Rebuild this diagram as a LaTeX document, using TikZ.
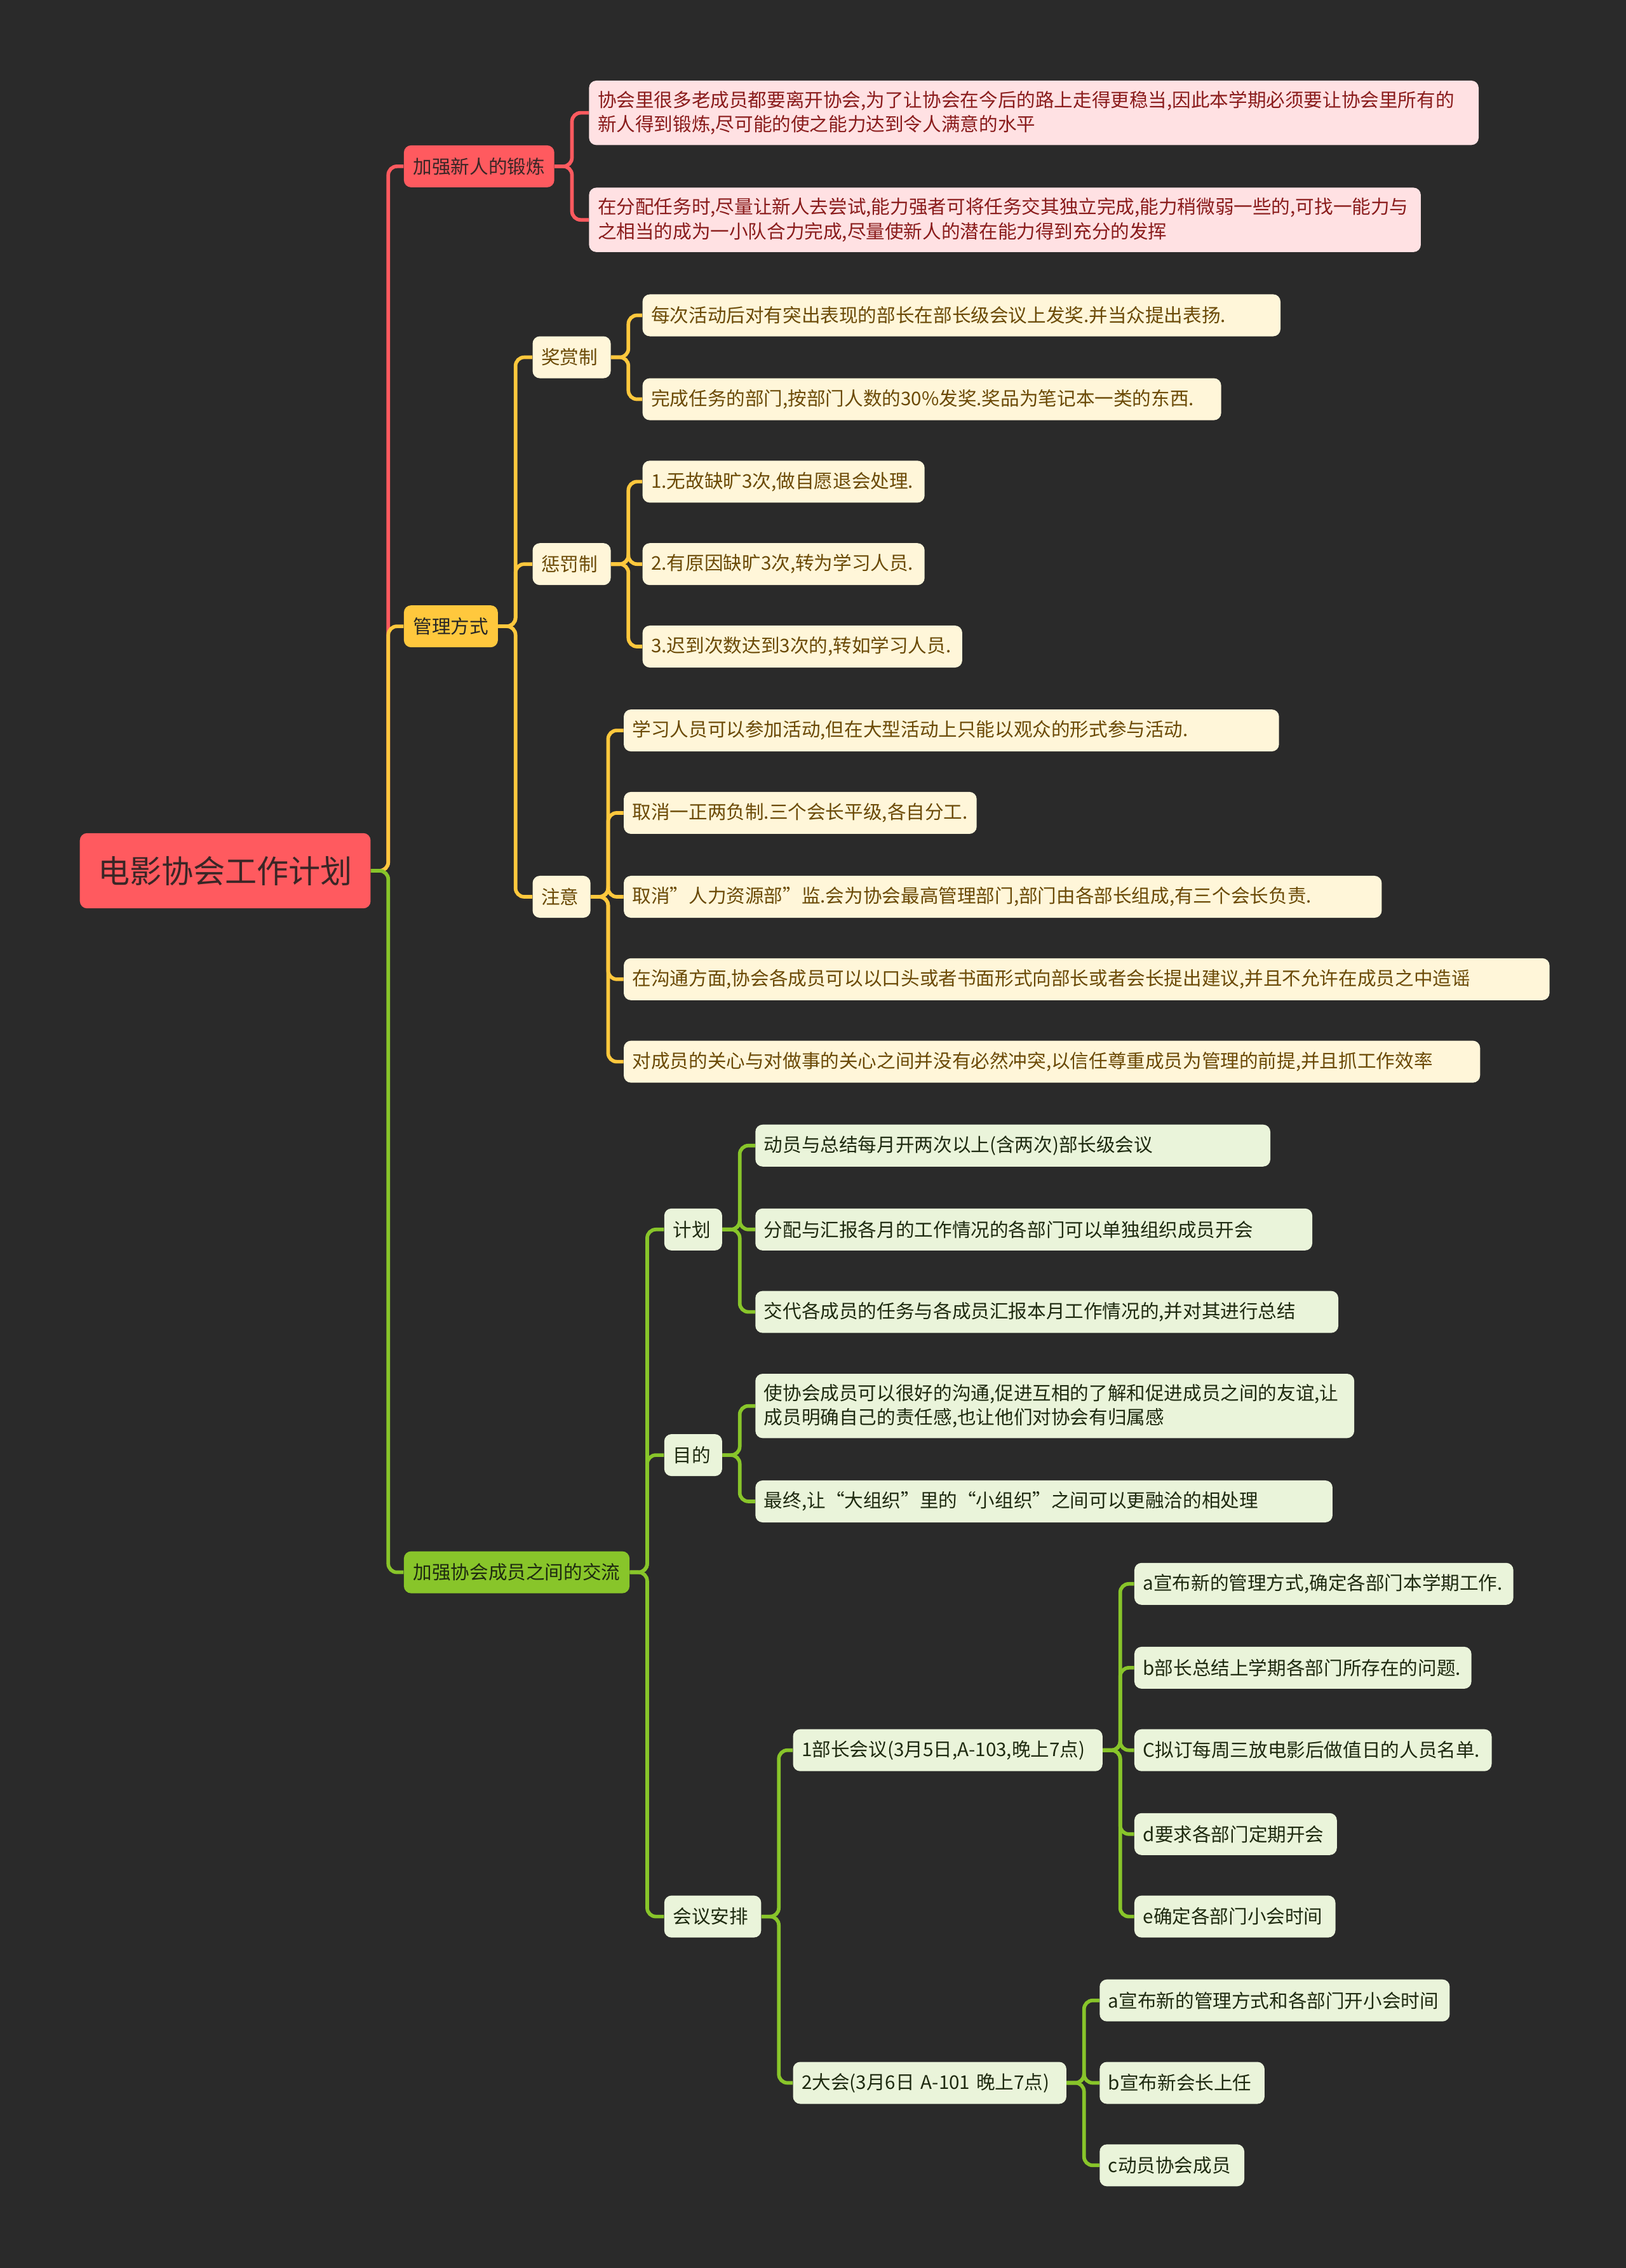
\documentclass[tikz,border=0pt]{standalone}
\usepackage{fontspec}
\setmainfont{Noto Sans CJK SC}
\usetikzlibrary{positioning,calc}

\definecolor{bgdark}{HTML}{2A2A2A}
\definecolor{mainred}{HTML}{FF5A5F}
\definecolor{mainyel}{HTML}{FFC83D}
\definecolor{maingrn}{HTML}{88C52A}
\definecolor{leafred}{HTML}{FFE1E3}
\definecolor{leafyel}{HTML}{FFF6D9}
\definecolor{leafgrn}{HTML}{EAF4DA}
\definecolor{txtred}{HTML}{8A1C1C}
\definecolor{txtyel}{HTML}{6B4A06}
\definecolor{txtgrn}{HTML}{1E2A10}
\definecolor{txtdark}{HTML}{3A2626}

\begin{document}
\begin{tikzpicture}[x=1pt,y=-1pt,
  box/.style={rounded corners=5pt, anchor=west, inner xsep=6pt, inner ysep=7pt,
    minimum height=29pt, font=\fontsize{13}{17}\selectfont},
  topic/.style={box, align=center},
  redleaf/.style={box, fill=leafred, text=txtred, align=left},
  yelleaf/.style={box, fill=leafyel, text=txtyel, align=left},
  grnleaf/.style={box, fill=leafgrn, text=txtgrn, align=left},
  redline/.style={draw=mainred, line width=2.5pt, rounded corners=6pt},
  yelline/.style={draw=mainyel, line width=2.5pt, rounded corners=6pt},
  grnline/.style={draw=maingrn, line width=2.5pt, rounded corners=6pt}]

\fill[bgdark] (0,0) rectangle (1124,1568);
\useasboundingbox (0,0) rectangle (1124,1568);

% centre
\node[box, fill=mainred, text=txtdark, minimum width=201pt, minimum height=52pt,
  font=\fontsize{22}{26}\selectfont] (root) at (55,602) {电影协会工作计划};

% first branch
\node[topic, fill=mainred, text=txtdark, minimum width=104pt] (xinren) at (279,115) {加强新人的锻炼};
\draw[redline] (root.east) -- ++(12,0) |- (xinren.west);
\foreach \n/\p/\x/\r/\y/\t in {
  xa/xinren/407/1020/78/{协会里很多老成员都要离开协会,为了让协会在今后的路上走得更稳当,因此本学期必须要让协会里所有的\\新人得到锻炼,尽可能的使之能力达到令人满意的水平},
  xb/xinren/407/980/152/{在分配任务时,尽量让新人去尝试,能力强者可将任务交其独立完成,能力稍微弱一些的,可找一能力与\\之相当的成为一小队合力完成,尽量使新人的潜在能力得到充分的发挥}} {
  \pgfmathsetmacro\tw{\r-\x-10}
  \node[redleaf, text width=\tw pt] (\n) at (\x,\y) {\t};
  \draw[redline] (\p.east) -- ++(12,0) |- (\n.west);
}

% second branch
\node[topic, fill=mainyel, text=black!85, minimum width=65pt] (guanli) at (279,433) {管理方式};
\draw[yelline] (root.east) -- ++(12,0) |- (guanli.west);
\foreach \n/\p/\x/\r/\y/\t in {
  jiang/guanli/368/420/247/奖赏制,
  chengfa/guanli/368/420/390/惩罚制,
  zhuyi/guanli/368/406/620/注意,
  ja/jiang/444/883/218/{每次活动后对有突出表现的部长在部长级会议上发奖.并当众提出表扬.},
  jb/jiang/444/842/276/{完成任务的部门,按部门人数的30\%发奖.奖品为笔记本一类的东西.},
  ca/chengfa/444/637/333/{1.无故缺旷3次,做自愿退会处理.},
  cb/chengfa/444/637/390/{2.有原因缺旷3次,转为学习人员.},
  cc/chengfa/444/663/447/{3.迟到次数达到3次的,转如学习人员.},
  za/zhuyi/431/882/505/{学习人员可以参加活动,但在大型活动上只能以观众的形式参与活动.},
  zb/zhuyi/431/673/562/{取消一正两负制.三个会长平级,各自分工.},
  zc/zhuyi/431/953/620/{取消”人力资源部”监.会为协会最高管理部门,部门由各部长组成,有三个会长负责.},
  zd/zhuyi/431/1069/677/{在沟通方面,协会各成员可以以口头或者书面形式向部长或者会长提出建议,并且不允许在成员之中造谣},
  ze/zhuyi/431/1021/734/{对成员的关心与对做事的关心之间并没有必然冲突,以信任尊重成员为管理的前提,并且抓工作效率}} {
  \pgfmathsetmacro\tw{\r-\x-10}
  \node[yelleaf, text width=\tw pt] (\n) at (\x,\y) {\t};
  \draw[yelline] (\p.east) -- ++(12,0) |- (\n.west);
}

% third branch
\node[topic, fill=maingrn, text=txtgrn, minimum width=156pt] (jiaoliu) at (279,1087) {加强协会成员之间的交流};
\draw[grnline] (root.east) -- ++(12,0) |- (jiaoliu.west);
\foreach \n/\p/\x/\r/\y/\t in {
  jihua/jiaoliu/459/497/850/计划,
  mudi/jiaoliu/459/497/1006/目的,
  huiyi/jiaoliu/459/524/1325/会议安排,
  ha/jihua/522/876/792/{动员与总结每月开两次以上(含两次)部长级会议},
  hb/jihua/522/905/850/{分配与汇报各月的工作情况的各部门可以单独组织成员开会},
  hc/jihua/522/923/907/{交代各成员的任务与各成员汇报本月工作情况的,并对其进行总结},
  ma/mudi/522/934/972/{使协会成员可以很好的沟通,促进互相的了解和促进成员之间的友谊,让\\成员明确自己的责任感,也让他们对协会有归属感},
  mb/mudi/522/919/1038/{最终,让“大组织”里的“小组织”之间可以更融洽的相处理},
  buzhang/huiyi/548/760/1210/{1部长会议(3月5日,A-103,晚上7点)},
  dahui/huiyi/548/735/1440/{2大会(3月6日 A-101 晚上7点)},
  ba/buzhang/784/1044/1095/{a宣布新的管理方式,确定各部门本学期工作.},
  bb/buzhang/784/1015/1153/{b部长总结上学期各部门所存在的问题.},
  bc/buzhang/784/1029/1210/{C拟订每周三放电影后做值日的人员名单.},
  bd/buzhang/784/922/1268/{d要求各部门定期开会},
  be/buzhang/784/921/1325/{e确定各部门小会时间},
  da/dahui/760/1000/1383/{a宣布新的管理方式和各部门开小会时间},
  db/dahui/760/872/1440/{b宣布新会长上任},
  dc/dahui/760/858/1497/{c动员协会成员}} {
  \pgfmathsetmacro\tw{\r-\x-10}
  \node[grnleaf, text width=\tw pt] (\n) at (\x,\y) {\t};
  \draw[grnline] (\p.east) -- ++(12,0) |- (\n.west);
}
\end{tikzpicture}
\end{document}
